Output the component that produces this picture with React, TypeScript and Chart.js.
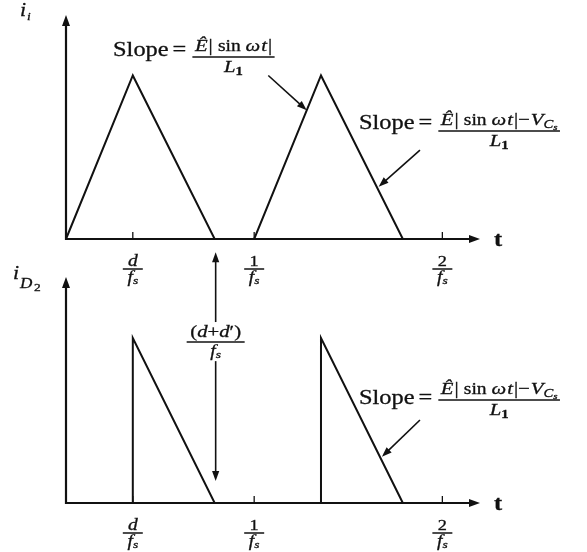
import React, { useEffect, useRef } from "react";
import { Chart, registerables } from "chart.js";

Chart.register(...registerables);

// Time is normalised to the switching period 1/fs; currents to their peak.
const dutyOn = 0.355; // d
const conductionEnd = 0.79; // d + d'
const timeAxisMax = 2.2;
const currentAxisMax = 1.37;

// input inductor current i_i: ramps up for d/fs, down until (d+d')/fs
const inputTime = [0, 0.355, 0.79, 1.0, 1.355, 1.79];
const inputCurrent = [0, 1, 0, 0, 1, 0];

// diode current i_D2: jumps at d/fs, ramps down to zero
const diodeTime = [0, 0.355, 0.355, 0.79, 1.355, 1.355, 1.79];
const diodeCurrent = [0, 0, 1, 0, 0, 1, 0];

// tick positions along t and the numerators of their fraction labels
const tickTimes = [dutyOn, 1, 2];
const tickNumerators = ["d", "1", "2"];

const INK = "#111111";
const FAMILY = "'Liberation Serif', 'Times New Roman', serif";
const SX = 1.22; // horizontal stretch of the lettering

type Run = { t: string; it?: boolean; size: number; dy?: number; bold?: boolean; gap?: number };

function fontOf(r: Run) {
  return `${r.it ? "italic " : ""}${r.bold ? "bold " : ""}${r.size}px ${FAMILY}`;
}

function runsWidth(ctx: CanvasRenderingContext2D, runs: Run[]) {
  let w = 0;
  for (const r of runs) {
    ctx.font = fontOf(r);
    w += ctx.measureText(r.t).width * SX + (r.gap || 0);
  }
  return w;
}

function drawRuns(
  ctx: CanvasRenderingContext2D,
  runs: Run[],
  x: number,
  y: number,
  align: "left" | "center" = "left"
) {
  const w = runsWidth(ctx, runs);
  let cx = align === "center" ? x - w / 2 : x;
  ctx.save();
  ctx.fillStyle = INK;
  ctx.strokeStyle = INK;
  ctx.lineWidth = 0.3;
  ctx.textAlign = "left";
  ctx.textBaseline = "alphabetic";
  for (const r of runs) {
    ctx.font = fontOf(r);
    const rw = ctx.measureText(r.t).width;
    ctx.save();
    ctx.translate(cx, y + (r.dy || 0));
    ctx.scale(SX, 1);
    ctx.fillText(r.t, 0, 0);
    ctx.strokeText(r.t, 0, 0);
    ctx.restore();
    cx += rw * SX + (r.gap || 0);
  }
  ctx.restore();
  return w;
}

function drawFraction(
  ctx: CanvasRenderingContext2D,
  num: Run[],
  den: Run[],
  cx: number,
  barY: number,
  numGap: number,
  denGap: number,
  barW?: number
) {
  const w = barW ?? Math.max(runsWidth(ctx, num), runsWidth(ctx, den)) + 4;
  drawRuns(ctx, num, cx, barY - numGap, "center");
  drawRuns(ctx, den, cx, barY + denGap, "center");
  ctx.save();
  ctx.strokeStyle = INK;
  ctx.lineWidth = 1.5;
  ctx.beginPath();
  ctx.moveTo(cx - w / 2, barY);
  ctx.lineTo(cx + w / 2, barY);
  ctx.stroke();
  ctx.restore();
  return w;
}

function arrow(
  ctx: CanvasRenderingContext2D,
  x0: number,
  y0: number,
  x1: number,
  y1: number,
  width = 1.6,
  len = 10,
  half = 3.6
) {
  const a = Math.atan2(y1 - y0, x1 - x0);
  const c = Math.cos(a);
  const s = Math.sin(a);
  ctx.save();
  ctx.strokeStyle = INK;
  ctx.fillStyle = INK;
  ctx.lineWidth = width;
  ctx.beginPath();
  ctx.moveTo(x0, y0);
  ctx.lineTo(x1 - c * len * 0.7, y1 - s * len * 0.7);
  ctx.stroke();
  ctx.beginPath();
  ctx.moveTo(x1, y1);
  ctx.lineTo(x1 - c * len - s * half, y1 - s * len + c * half);
  ctx.lineTo(x1 - c * len + s * half, y1 - s * len - c * half);
  ctx.closePath();
  ctx.fill();
  ctx.restore();
}

// time at which segment i of a waveform crosses the given level
function edgeTime(times: number[], values: number[], i: number, level: number) {
  const f = (level - values[i]) / (values[i + 1] - values[i]);
  return times[i] + f * (times[i + 1] - times[i]);
}

const fs: Run[] = [
  { t: "f", it: true, size: 16 },
  { t: "s", it: true, size: 11, dy: 2 },
];

const sinTerm: Run[] = [
  { t: "Ê", it: true, size: 17, gap: 1 },
  { t: "| ", size: 17 },
  { t: "sin ", size: 16 },
  { t: "ω", it: true, size: 17, gap: 1 },
  { t: "t", it: true, size: 17, gap: 1 },
  { t: "|", size: 17 },
];
const sinMinusVc: Run[] = [
  ...sinTerm,
  { t: "−", size: 17, gap: 1 },
  { t: "V", it: true, size: 17 },
  { t: "C", it: true, size: 12, dy: 3 },
  { t: "s", it: true, size: 9, dy: 5 },
];
const inductance: Run[] = [
  { t: "L", it: true, size: 17 },
  { t: "1", size: 12, dy: 3, bold: true },
];

function drawSlope(
  ctx: CanvasRenderingContext2D,
  left: number,
  barY: number,
  num: Run[],
  slopeBase: number
) {
  const wSlope = drawRuns(ctx, [{ t: "Slope", size: 20 }], left, barY + slopeBase);
  const eqX = left + wSlope + 4;
  const wEq = drawRuns(ctx, [{ t: "=", size: 20 }], eqX, barY + slopeBase);
  const wNum = runsWidth(ctx, num);
  const barW = wNum + 5;
  const cx = eqX + wEq + 6 + barW / 2;
  drawFraction(ctx, num, inductance, cx, barY, 6, 15, barW);
}

function drawAxes(chart: Chart) {
  const { ctx, chartArea } = chart;
  const x = chart.scales.x;
  const { left, right, top, bottom } = chartArea;
  arrow(ctx, left, bottom + 1, left, top, 2.2, 11, 4);
  arrow(ctx, left - 1, bottom, right, bottom, 2.2, 11, 4);
  ctx.save();
  ctx.strokeStyle = INK;
  ctx.lineWidth = 1.3;
  tickTimes.forEach((t) => {
    const px = x.getPixelForValue(t);
    ctx.beginPath();
    ctx.moveTo(px, bottom);
    ctx.lineTo(px, bottom - 7);
    ctx.stroke();
  });
  ctx.restore();
  tickTimes.forEach((t, i) => {
    const px = x.getPixelForValue(t);
    const num: Run[] =
      tickNumerators[i] === "d"
        ? [{ t: "d", it: true, size: 16 }]
        : [{ t: tickNumerators[i], size: 15 }];
    drawFraction(ctx, num, fs, px, bottom + 30, 3, 13, 20);
  });
  drawRuns(ctx, [{ t: "t", size: 20, bold: true }], right + 14, bottom + 7);
}

const inputExtras = {
  id: "inputExtras",
  beforeDatasetsDraw(chart: Chart) {
    drawAxes(chart);
  },
  afterDatasetsDraw(chart: Chart) {
    const { ctx } = chart;
    const x = chart.scales.x;
    const y = chart.scales.y;
    // axis name
    drawRuns(ctx, [{ t: "i", it: true, size: 18 }], 20, 16);
    drawRuns(ctx, [{ t: "i", it: true, size: 11 }], 27, 20);

    // rising slope of the second pulse
    drawSlope(ctx, x.getPixelForValue(0.25), y.getPixelForValue(1.113), sinTerm, -1);
    const riseLevel = 0.787;
    arrow(
      ctx,
      x.getPixelForValue(1.075),
      y.getPixelForValue(1.0),
      x.getPixelForValue(edgeTime(inputTime, inputCurrent, 3, riseLevel)),
      y.getPixelForValue(riseLevel)
    );

    // falling slope of the second pulse
    drawSlope(ctx, x.getPixelForValue(1.557), y.getPixelForValue(0.66), sinMinusVc, -2);
    const fallLevel = 0.32;
    arrow(
      ctx,
      x.getPixelForValue(1.881),
      y.getPixelForValue(0.544),
      x.getPixelForValue(edgeTime(inputTime, inputCurrent, 4, fallLevel)) + 2,
      y.getPixelForValue(fallLevel)
    );
  },
};

const diodeExtras = {
  id: "diodeExtras",
  beforeDatasetsDraw(chart: Chart) {
    drawAxes(chart);
  },
  afterDatasetsDraw(chart: Chart) {
    const { ctx } = chart;
    const x = chart.scales.x;
    const y = chart.scales.y;
    // axis name
    drawRuns(ctx, [{ t: "i", it: true, size: 18 }], 13, 279);
    drawRuns(ctx, [{ t: "D", it: true, size: 14 }], 20, 288);
    drawRuns(ctx, [{ t: "2", size: 11 }], 34, 291);

    // (d+d')/fs marker between the two plots
    const mx = x.getPixelForValue(conductionEnd) + 1;
    arrow(ctx, mx, y.getPixelForValue(1.097), mx, y.getPixelForValue(1.52));
    arrow(ctx, mx, y.getPixelForValue(0.86), mx, y.getPixelForValue(0.133));
    drawFraction(
      ctx,
      [
        { t: "(", size: 17 },
        { t: "d", it: true, size: 17 },
        { t: "+", size: 17 },
        { t: "d", it: true, size: 17 },
        { t: "′", size: 17 },
        { t: ")", size: 17 },
      ],
      fs,
      mx,
      y.getPixelForValue(0.976),
      5,
      14,
      58
    );

    // falling slope of the second pulse
    drawSlope(ctx, x.getPixelForValue(1.557), y.getPixelForValue(0.624), sinMinusVc, 4);
    const fallLevel = 0.28;
    arrow(
      ctx,
      x.getPixelForValue(1.881),
      y.getPixelForValue(0.503),
      x.getPixelForValue(edgeTime(diodeTime, diodeCurrent, 5, fallLevel)) + 2,
      y.getPixelForValue(fallLevel)
    );
  },
};

function makeChart(
  canvas: HTMLCanvasElement,
  times: number[],
  values: number[],
  padding: { left: number; right: number; top: number; bottom: number },
  extras: any
) {
  return new Chart(canvas, {
    type: "line",
    data: {
      datasets: [
        {
          data: times.map((t, i) => ({ x: t, y: values[i] })),
          borderColor: INK,
          borderWidth: 2,
          pointRadius: 0,
          tension: 0,
          fill: false,
          clip: false as any,
        },
      ],
    },
    options: {
      animation: false,
      responsive: false,
      devicePixelRatio: 1,
      events: [],
      layout: { padding },
      plugins: { legend: { display: false }, tooltip: { enabled: false } },
      scales: {
        x: { type: "linear", min: 0, max: timeAxisMax, display: false },
        y: { type: "linear", min: 0, max: currentAxisMax, display: false },
      },
    },
    plugins: [extras],
  });
}

export default function App() {
  const topRef = useRef<HTMLCanvasElement>(null);
  const bottomRef = useRef<HTMLCanvasElement>(null);

  useEffect(() => {
    const top = makeChart(
      topRef.current!,
      inputTime,
      inputCurrent,
      { left: 66, right: 107, top: 15, bottom: 313 },
      inputExtras
    );
    const bottom = makeChart(
      bottomRef.current!,
      diodeTime,
      diodeCurrent,
      { left: 66, right: 107, top: 277, bottom: 49 },
      diodeExtras
    );
    return () => {
      top.destroy();
      bottom.destroy();
    };
  }, []);

  const layer: React.CSSProperties = { position: "absolute", left: 0, top: 0 };
  return (
    <div
      style={{
        position: "absolute",
        left: 0,
        top: 0,
        width: 587,
        height: 552,
        background: "#ffffff",
      }}
    >
      <canvas ref={topRef} width={587} height={552} style={layer} />
      <canvas ref={bottomRef} width={587} height={552} style={layer} />
    </div>
  );
}
